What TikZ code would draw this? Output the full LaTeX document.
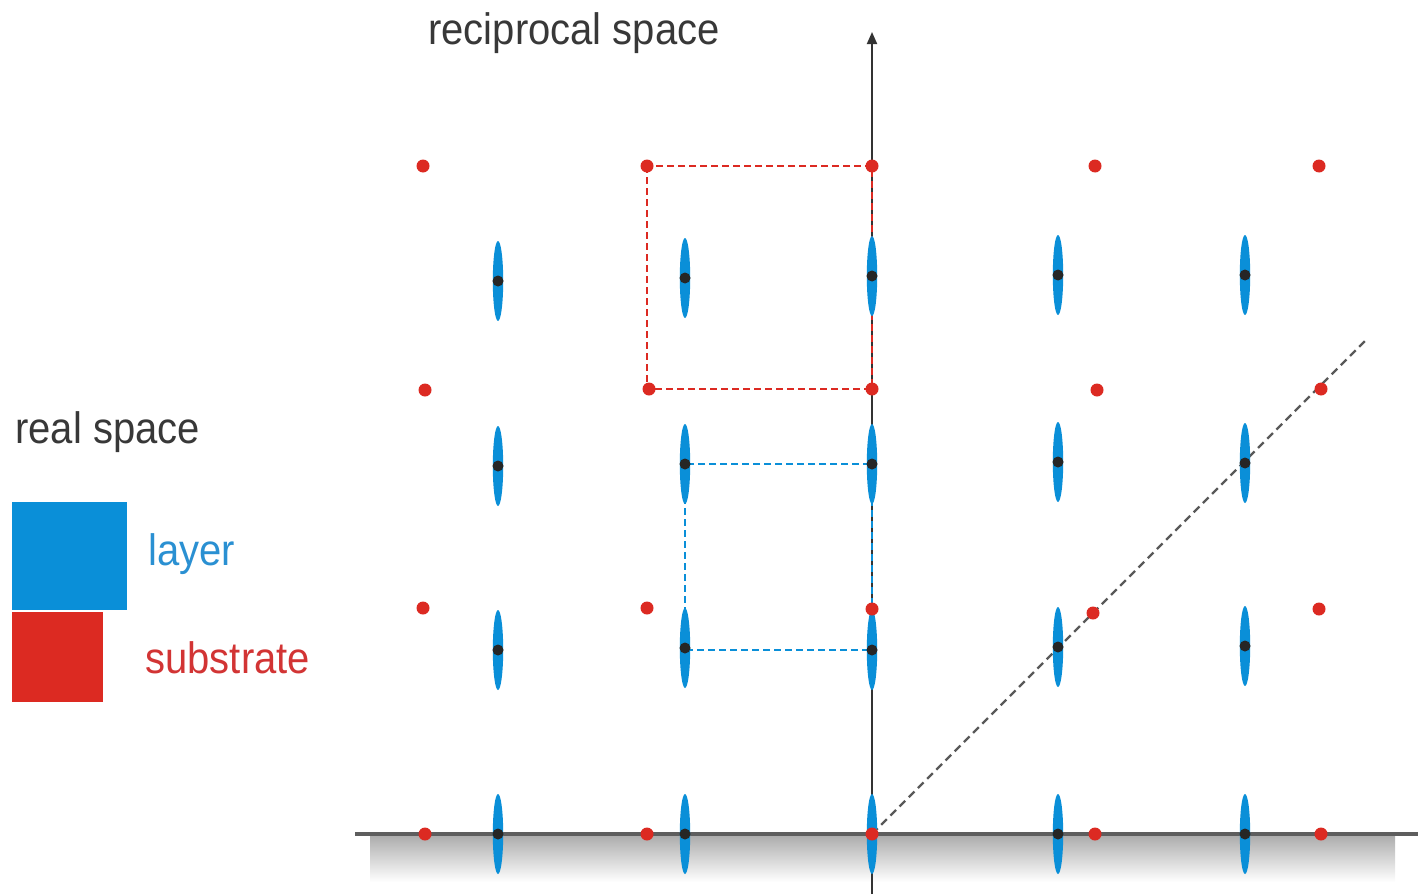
\documentclass[tikz,border=0pt]{standalone}
\usepackage{fontspec}
\setmainfont{Liberation Sans}
\usetikzlibrary{shapes.geometric,arrows.meta}
\definecolor{lblue}{HTML}{0A8FD8}
\definecolor{sred}{HTML}{DC2A22}
\definecolor{txtgray}{HTML}{383838}
\definecolor{txtblue}{HTML}{2A90D2}
\definecolor{txtred}{HTML}{D23434}
\definecolor{axgray}{HTML}{5E5E5E}
\newcommand{\tall}[1]{\scalebox{1}[1.1]{#1}}
\tikzset{
  lell/.style={ellipse, fill=lblue, draw=none, minimum width=5.2pt, minimum height=40pt, inner sep=0pt},
  ldot/.style={circle, fill=black!85, minimum size=5.5pt, inner sep=0pt},
  sdot/.style={circle, fill=sred, minimum size=6.5pt, inner sep=0pt},
  lbl/.style={anchor=base west, inner sep=0pt, font=\fontsize{20}{24}\selectfont},
  reddash/.style={draw=sred, line width=0.8pt, dash pattern=on 3.5pt off 2pt},
  bluedash/.style={draw=lblue, line width=0.8pt, dash pattern=on 3.5pt off 2pt},
  graydash/.style={draw=black!65, line width=1.2pt, dash pattern=on 4pt off 2.5pt},
}
\begin{document}
\begin{tikzpicture}[x=0.5pt,y=-0.5pt]
\useasboundingbox (0,0) rectangle (1418,894);
% shaded strip
\shade[top color=black!32, bottom color=white] (370,836) rectangle (1395,882);
% axes
\coordinate (xl) at (355,834);
\coordinate (xr) at (1418,834);
\coordinate (yb) at (872,894);
\coordinate (yt) at (872,32);
\draw[axgray, line width=1.6pt] (xl) -- (xr);
\draw[black!80, line width=1pt, -{Triangle[length=6pt,width=5pt]}] (yb) -- (yt);
% labels
\node[lbl, text=txtgray] (recip) at (428,44) {\tall{reciprocal space}};
\node[lbl, text=txtgray] (real) at (15,443) {\tall{real space}};
\node[lbl, text=txtblue] (layerlbl) at (148,565) {\tall{layer}};
\node[lbl, text=txtred] (sublbl) at (145,673) {\tall{substrate}};
% legend boxes
\fill[lblue] (12,502) rectangle (127,610);
\fill[sred] (12,612) rectangle (103,702);
% substrate points
\foreach \n/\x/\y in {11/423/166,12/647/166,13/872/166,14/1095/166,15/1319/166,
                      21/425/390,22/649/389,23/872/389,24/1097/390,25/1321/389,
                      31/423/608,32/647/608,33/872/609,34/1093/613,35/1319/609,
                      41/425/834,42/647/834,43/872/834,44/1095/834,45/1321/834}
  \coordinate (S\n) at (\x,\y);
% layer points
\foreach \n/\x/\y in {11/498/281,12/685/278,13/872/276,14/1058/275,15/1245/275,
                      21/498/466,22/685/464,23/872/464,24/1058/462,25/1245/463,
                      31/498/650,32/685/648,33/872/650,34/1058/647,35/1245/646,
                      41/498/834,42/685/834,43/872/834,44/1058/834,45/1245/834}
  \coordinate (L\n) at (\x,\y);
% dashed cells
\draw[reddash] (S12) rectangle (S23);
\draw[bluedash] (L22) rectangle (L33);
% diagonal
\coordinate (dend) at (1365,341);
\draw[graydash] (S43) -- (dend);
% layer ellipses and dots
\foreach \n in {11,12,13,14,15,21,22,23,24,25,31,32,33,34,35,41,42,43,44,45}{
  \node[lell] (E\n) at (L\n) {};
  \node[ldot] (D\n) at (L\n) {};
}
% substrate dots
\foreach \n in {11,12,13,14,15,21,22,23,24,25,31,32,33,34,35,41,42,43,44,45}
  \node[sdot] (R\n) at (S\n) {};
\end{tikzpicture}
\end{document}
